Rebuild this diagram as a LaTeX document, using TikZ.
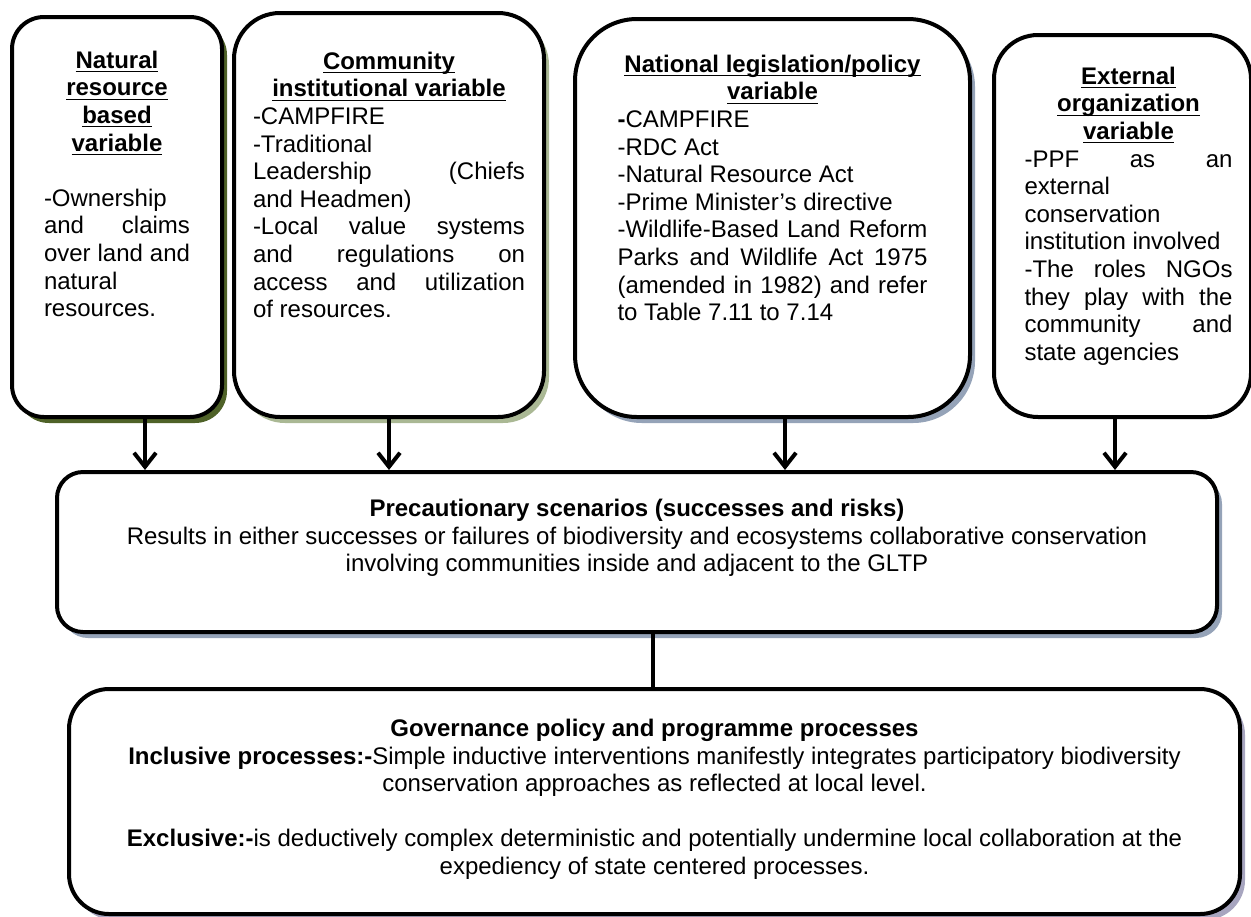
\documentclass[tikz,border=0pt]{standalone}
\usepackage{amsmath}
\usepackage{fontspec}
\setmainfont{Liberation Sans}
\usetikzlibrary{arrows.meta, shadows}

\definecolor{olivedark}{HTML}{4F6228}
\definecolor{olivelight}{HTML}{AAB894}
\definecolor{steelgrey}{HTML}{95A3B8}
\definecolor{lavendergrey}{HTML}{A7A5BF}

% bold underlined heading line, underline kept at the baseline
\newcommand{\headline}[1]{\underline{\smash[b]{\textbf{#1}}}}
% top aligned text block: height, width, text
\newcommand{\boxtext}[3]{\parbox[c][#1][t]{#2}{\hyphenpenalty=10000
   \exhyphenpenalty=10000 \tolerance=10000 \hbadness=10000 #3}}

\tikzset{
every node/.style = {font = \fontsize{12pt}{13.8pt}\selectfont},
factorbox/.style = {rectangle, draw, line width = 2pt, fill = white,
   inner sep = 0pt, anchor = north west},
darkshade/.style = {drop shadow = {shadow xshift = 2.5pt, shadow yshift = -3pt,
   fill = olivedark, opacity = 1}},
lightshade/.style = {drop shadow = {shadow xshift = 2.5pt, shadow yshift = -3pt,
   fill = olivelight, opacity = 1}},
steelshade/.style = {drop shadow = {shadow xshift = 2.5pt, shadow yshift = -3pt,
   fill = steelgrey, opacity = 1}},
lavendershade/.style = {drop shadow = {shadow xshift = 2.5pt, shadow yshift = -3pt,
   fill = lavendergrey, opacity = 1}},
flow/.style = {line width = 2pt, -{Straight Barb[length = 7pt, width = 11pt]}},
link/.style = {line width = 2pt}
}

\begin{document}
\begin{tikzpicture}[x = 0.5pt, y = -0.5pt]
\useasboundingbox (0,0) rectangle (1251,916);

%% Variables
\node [factorbox, darkshade, minimum width = 105pt, minimum height = 200pt,
   rounded corners = 16pt] (natural) at (10,15) {\boxtext{166pt}{73pt}{%
   {\centering \headline{Natural}\par \headline{resource}\par
   \headline{based}\par \headline{variable}\par}
   \vspace{\baselineskip}
   -Ownership\linebreak and claims\linebreak over land and\linebreak
   natural\linebreak resources.}};

\node [factorbox, lightshade, minimum width = 155pt, minimum height = 202pt,
   rounded corners = 23pt] (community) at (232,11) {\boxtext{163pt}{136pt}{%
   {\centering \headline{Community}\par \headline{institutional variable}\par}
   -CAMPFIRE\par
   -Traditional\linebreak Leadership (Chiefs\linebreak and Headmen)\par
   -Local value systems\linebreak and regulations on\linebreak
   access and utilization\linebreak of resources.}};

\node [factorbox, steelshade, minimum width = 197.5pt, minimum height = 199pt,
   rounded corners = 31pt] (national) at (573,17) {\boxtext{163pt}{155pt}{%
   {\centering \headline{National legislation/policy}\par \headline{variable}\par}
   \textbf{-}CAMPFIRE\par
   -RDC Act\par
   -Natural Resource Act\par
   -Prime Minister’s directive\par
   -Wildlife-Based Land Reform\linebreak Parks and Wildlife Act 1975\linebreak
   (amended in 1982) and refer\linebreak to Table 7.11 to 7.14}};

\node [factorbox, minimum width = 128.5pt, minimum height = 191pt,
   rounded corners = 22pt] (external) at (992,33) {\hspace*{6pt}\boxtext{159pt}{104pt}{%
   {\centering \headline{External}\par \headline{organization}\par
   \headline{variable}\par}
   -PPF as an\linebreak external\linebreak conservation\linebreak
   institution involved\par
   -The roles NGOs\linebreak they play with the\linebreak community and\linebreak
   state agencies}};

%% Scenarios
\node [factorbox, steelshade, minimum width = 580pt, minimum height = 80pt,
   rounded corners = 13pt] (scenario) at (55,470) {\boxtext{53pt}{560pt}{%
   \centering \textbf{Precautionary scenarios (successes and risks)}\par
   Results in either successes or failures of biodiversity and ecosystems
   collaborative conservation\par
   involving communities inside and adjacent to the GLTP}};

%% Governance processes
\node [factorbox, lavendershade, minimum width = 585.5pt, minimum height = 112.5pt,
   rounded corners = 20pt] (governance) at (67,687) {\boxtext{82.5pt}{570pt}{%
   \centering \textbf{Governance policy and programme processes}\par
   \textbf{Inclusive processes:-}Simple inductive interventions manifestly
   integrates participatory biodiversity\par
   conservation approaches as reflected at local level.\par
   \vspace{\baselineskip}
   \textbf{Exclusive:-}is deductively complex deterministic and potentially
   undermine local collaboration at the\par
   expediency of state centered processes.}};

%% Arrows
\draw [flow] ([xshift = 14pt]natural.south) -- ([xshift = 14pt]natural.south |- scenario.north);
\draw [flow] (community.south) -- (community.south |- scenario.north);
\draw [flow] ([xshift = 6.25pt]national.south) -- ([xshift = 6.25pt]national.south |- scenario.north);
\draw [flow] ([xshift = -3.75pt]external.south) -- ([xshift = -3.75pt]external.south |- scenario.north);
\draw [link] ([xshift = 8pt]scenario.south) -- ([xshift = 8pt]scenario.south |- governance.north);

\end{tikzpicture}
\end{document}
